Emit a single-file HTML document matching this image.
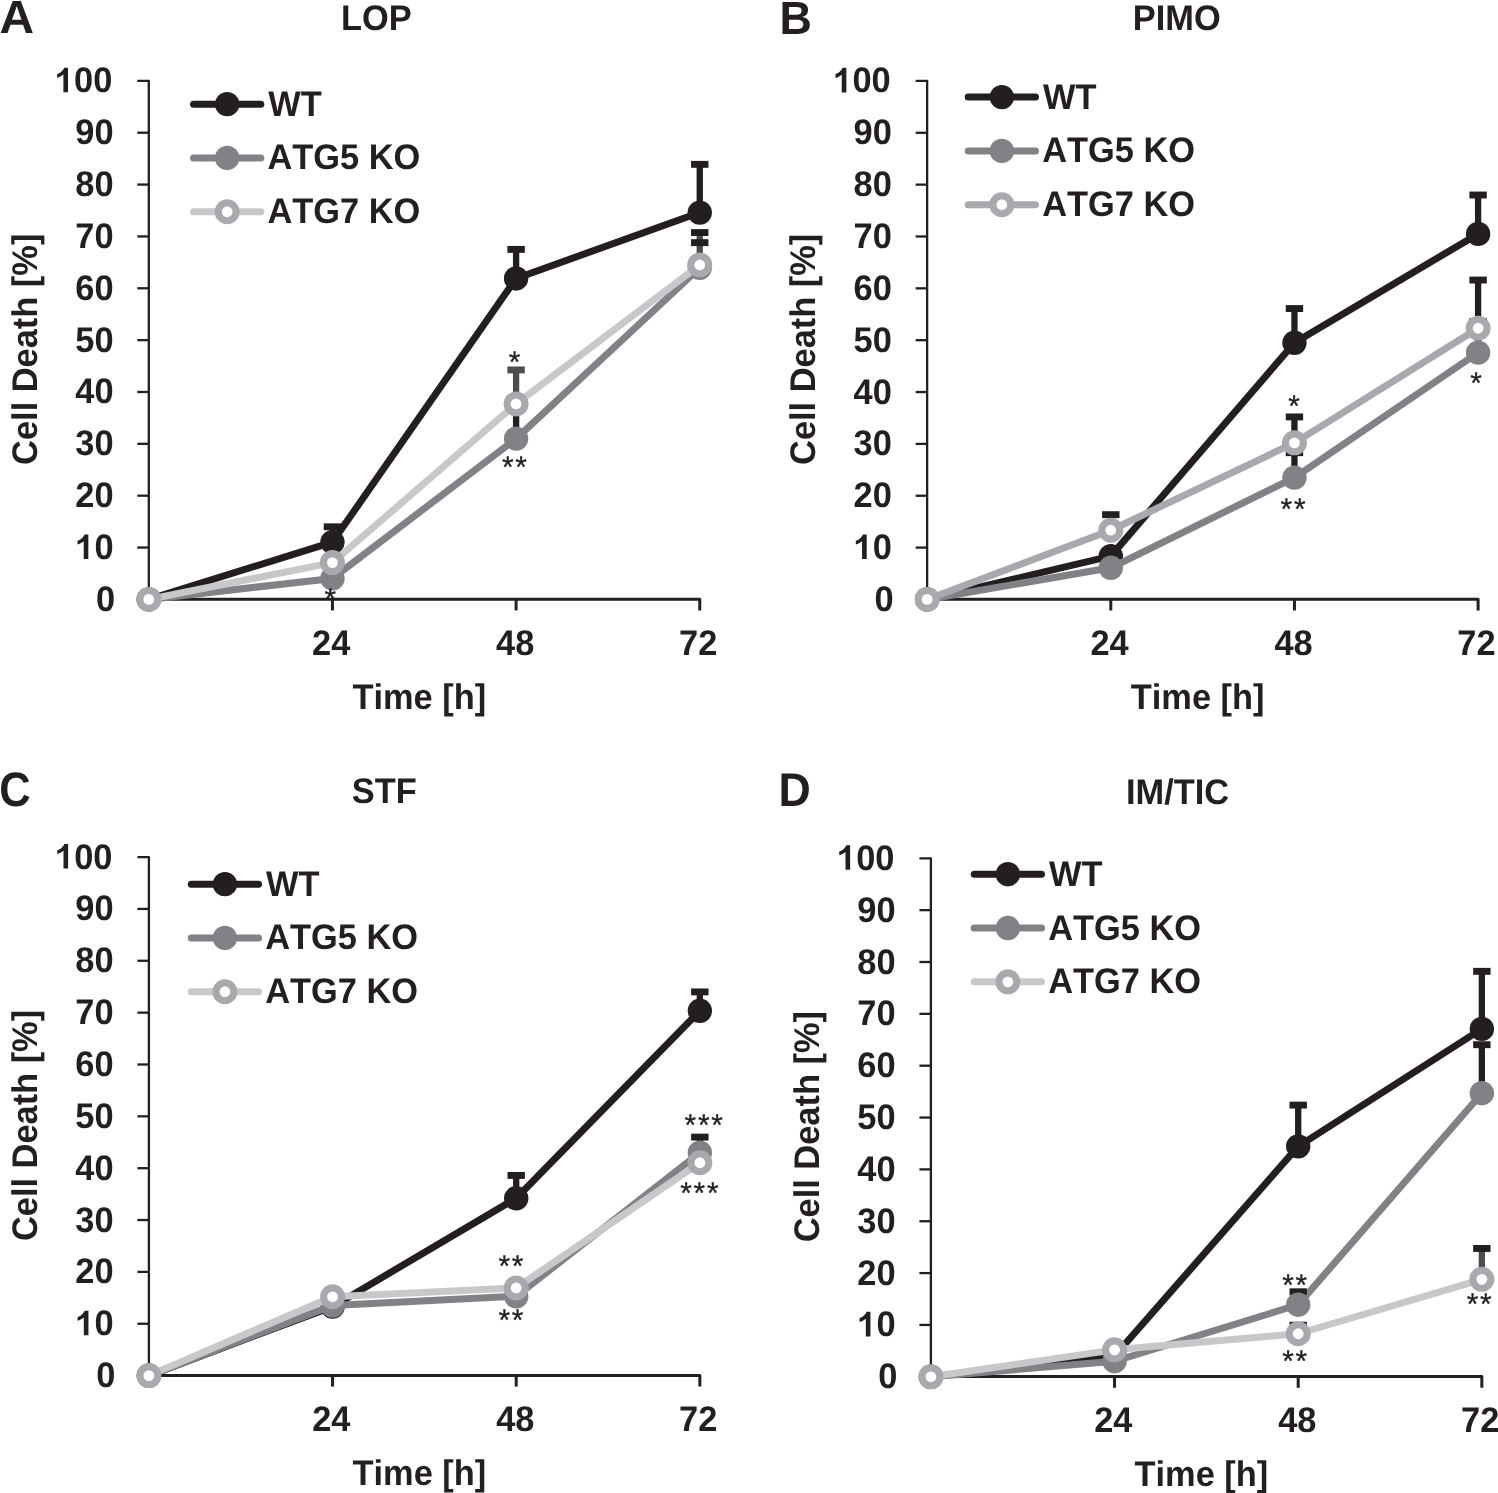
<!DOCTYPE html>
<html><head><meta charset="utf-8"><title>Cell death time courses (LOP, PIMO, STF, IM/TIC)</title>
<style>
html,body{margin:0;padding:0;background:#fff;}
body{width:1498px;height:1493px;overflow:hidden;}
svg{display:block;will-change:transform;font-family:"Liberation Sans",sans-serif;}
text{text-rendering:geometricPrecision;font-kerning:none;}
</style></head><body>
<svg width="1498" height="1493" viewBox="0 0 1498 1493">
<rect width="1498" height="1493" fill="#fff"/>
<path d="M137.30,80.87 H148.80 V599.20" fill="none" stroke="#231f20" stroke-width="2.3" stroke-linejoin="round" stroke-linecap="butt"/>
<path d="M148.80,599.20 H699.75 V610.40" fill="none" stroke="#231f20" stroke-width="3.0" stroke-linejoin="round" stroke-linecap="butt"/>
<line x1="137.30" y1="599.40" x2="148.80" y2="599.40" stroke="#231f20" stroke-width="2.3" stroke-linecap="butt"/>
<line x1="137.30" y1="547.55" x2="148.80" y2="547.55" stroke="#231f20" stroke-width="2.3" stroke-linecap="butt"/>
<line x1="137.30" y1="495.69" x2="148.80" y2="495.69" stroke="#231f20" stroke-width="2.3" stroke-linecap="butt"/>
<line x1="137.30" y1="443.84" x2="148.80" y2="443.84" stroke="#231f20" stroke-width="2.3" stroke-linecap="butt"/>
<line x1="137.30" y1="391.99" x2="148.80" y2="391.99" stroke="#231f20" stroke-width="2.3" stroke-linecap="butt"/>
<line x1="137.30" y1="340.13" x2="148.80" y2="340.13" stroke="#231f20" stroke-width="2.3" stroke-linecap="butt"/>
<line x1="137.30" y1="288.28" x2="148.80" y2="288.28" stroke="#231f20" stroke-width="2.3" stroke-linecap="butt"/>
<line x1="137.30" y1="236.43" x2="148.80" y2="236.43" stroke="#231f20" stroke-width="2.3" stroke-linecap="butt"/>
<line x1="137.30" y1="184.58" x2="148.80" y2="184.58" stroke="#231f20" stroke-width="2.3" stroke-linecap="butt"/>
<line x1="137.30" y1="132.72" x2="148.80" y2="132.72" stroke="#231f20" stroke-width="2.3" stroke-linecap="butt"/>
<line x1="332.45" y1="599.20" x2="332.45" y2="610.40" stroke="#231f20" stroke-width="3.0" stroke-linecap="butt"/>
<line x1="516.10" y1="599.20" x2="516.10" y2="610.40" stroke="#231f20" stroke-width="3.0" stroke-linecap="butt"/>
<text transform="translate(96.12,610.90) scale(1.0000,1.0350)" font-size="34.4" font-weight="bold" fill="#231f20">0</text>
<path transform="translate(75.25,559.04) scale(1,1.035)" d="M8.47,0 H13.09 V-23.75 H9.28 C8.45,-21.87 6.9,-20.04 5.1,-18.92 C4.2,-18.41 3.25,-18.05 2.23,-17.75 V-13.98 C4.4,-14.6 6.6,-15.66 8.47,-17.19 Z" fill="#231f20"/>
<text transform="translate(94.38,559.04) scale(1.0000,1.0350)" font-size="34.4" font-weight="bold" fill="#231f20">0</text>
<text transform="translate(75.25,507.19) scale(1.0000,1.0350)" font-size="34.4" font-weight="bold" fill="#231f20">2</text>
<text transform="translate(94.38,507.19) scale(1.0000,1.0350)" font-size="34.4" font-weight="bold" fill="#231f20">0</text>
<text transform="translate(75.25,455.34) scale(1.0000,1.0350)" font-size="34.4" font-weight="bold" fill="#231f20">3</text>
<text transform="translate(94.38,455.34) scale(1.0000,1.0350)" font-size="34.4" font-weight="bold" fill="#231f20">0</text>
<text transform="translate(75.25,403.49) scale(1.0000,1.0350)" font-size="34.4" font-weight="bold" fill="#231f20">4</text>
<text transform="translate(94.38,403.49) scale(1.0000,1.0350)" font-size="34.4" font-weight="bold" fill="#231f20">0</text>
<text transform="translate(75.25,351.63) scale(1.0000,1.0350)" font-size="34.4" font-weight="bold" fill="#231f20">5</text>
<text transform="translate(94.38,351.63) scale(1.0000,1.0350)" font-size="34.4" font-weight="bold" fill="#231f20">0</text>
<text transform="translate(75.25,299.78) scale(1.0000,1.0350)" font-size="34.4" font-weight="bold" fill="#231f20">6</text>
<text transform="translate(94.38,299.78) scale(1.0000,1.0350)" font-size="34.4" font-weight="bold" fill="#231f20">0</text>
<text transform="translate(75.25,247.93) scale(1.0000,1.0350)" font-size="34.4" font-weight="bold" fill="#231f20">7</text>
<text transform="translate(94.38,247.93) scale(1.0000,1.0350)" font-size="34.4" font-weight="bold" fill="#231f20">0</text>
<text transform="translate(75.25,196.07) scale(1.0000,1.0350)" font-size="34.4" font-weight="bold" fill="#231f20">8</text>
<text transform="translate(94.38,196.07) scale(1.0000,1.0350)" font-size="34.4" font-weight="bold" fill="#231f20">0</text>
<text transform="translate(75.25,144.22) scale(1.0000,1.0350)" font-size="34.4" font-weight="bold" fill="#231f20">9</text>
<text transform="translate(94.38,144.22) scale(1.0000,1.0350)" font-size="34.4" font-weight="bold" fill="#231f20">0</text>
<path transform="translate(54.93,92.37) scale(1,1.035)" d="M8.47,0 H13.09 V-23.75 H9.28 C8.45,-21.87 6.9,-20.04 5.1,-18.92 C4.2,-18.41 3.25,-18.05 2.23,-17.75 V-13.98 C4.4,-14.6 6.6,-15.66 8.47,-17.19 Z" fill="#231f20"/>
<text transform="translate(74.05,92.37) scale(1.0000,1.0350)" font-size="34.4" font-weight="bold" fill="#231f20">0</text>
<text transform="translate(93.18,92.37) scale(1.0000,1.0350)" font-size="34.4" font-weight="bold" fill="#231f20">0</text>
<text transform="translate(312.11,655.05) scale(1.0000,1.0350)" font-size="34.4" font-weight="bold" fill="#231f20">24</text>
<text transform="translate(496.09,655.05) scale(1.0000,1.0350)" font-size="34.4" font-weight="bold" fill="#231f20">48</text>
<text transform="translate(679.02,655.05) scale(1.0000,1.0350)" font-size="34.4" font-weight="bold" fill="#231f20">72</text>
<text transform="translate(-0.44,33.04) scale(1.0250,1.0000)" font-size="46.7" font-weight="bold" fill="#231f20">A</text>
<text transform="translate(341.00,30.20) scale(1.0000,1.0350)" font-size="34.4" font-weight="bold" fill="#231f20">LOP</text>
<text transform="translate(352.41,708.80) scale(1.0000,1.0350)" font-size="34.4" font-weight="bold" fill="#231f20">Time [h]</text>
<text transform="translate(36.60,464.88) rotate(-90) scale(1.0000,1.0350)" font-size="34.4" font-weight="bold" fill="#231f20">Cell Death [%]</text>
<line x1="193.51" y1="104.17" x2="260.81" y2="104.17" stroke="#231f20" stroke-width="7.0" stroke-linecap="round"/>
<circle cx="227.16" cy="104.17" r="12.2" fill="#231f20"/>
<text transform="translate(268.28,115.67) scale(1.0000,1.0350)" font-size="34.4" font-weight="bold" fill="#231f20">WT</text>
<line x1="193.51" y1="157.97" x2="260.81" y2="157.97" stroke="#808285" stroke-width="7.0" stroke-linecap="round"/>
<circle cx="227.16" cy="157.97" r="12.2" fill="#808285"/>
<text transform="translate(267.45,169.47) scale(1.0000,1.0350)" font-size="34.4" font-weight="bold" fill="#231f20">ATG5 KO</text>
<line x1="193.51" y1="211.77" x2="260.81" y2="211.77" stroke="#c7c8ca" stroke-width="7.0" stroke-linecap="round"/>
<circle cx="227.16" cy="211.77" r="8.95" fill="#fff" stroke="#a7a9ac" stroke-width="7.1"/>
<text transform="translate(267.45,223.27) scale(1.0000,1.0350)" font-size="34.4" font-weight="bold" fill="#231f20">ATG7 KO</text>
<polyline points="148.80,599.40 332.45,542.10 516.10,278.43 699.75,212.58" fill="none" stroke="#231f20" stroke-width="7.0" stroke-linejoin="round" stroke-linecap="round"/>
<rect x="329.30" y="526.81" width="6.30" height="15.30" fill="#231f20"/>
<rect x="323.75" y="523.36" width="17.40" height="6.90" fill="#231f20"/>
<rect x="512.95" y="249.39" width="6.30" height="29.04" fill="#231f20"/>
<rect x="507.40" y="245.94" width="17.40" height="6.90" fill="#231f20"/>
<rect x="696.60" y="164.35" width="6.30" height="48.22" fill="#231f20"/>
<rect x="691.05" y="160.90" width="17.40" height="6.90" fill="#231f20"/>
<circle cx="148.80" cy="599.40" r="12.2" fill="#231f20"/>
<circle cx="332.45" cy="542.10" r="12.2" fill="#231f20"/>
<circle cx="516.10" cy="278.43" r="12.2" fill="#231f20"/>
<circle cx="699.75" cy="212.58" r="12.2" fill="#231f20"/>
<polyline points="148.80,599.40 332.45,578.40 516.10,438.66 699.75,267.80" fill="none" stroke="#808285" stroke-width="7.0" stroke-linejoin="round" stroke-linecap="round"/>
<rect x="512.95" y="404.95" width="6.30" height="33.70" fill="#231f20"/>
<rect x="507.40" y="401.50" width="17.40" height="6.90" fill="#231f20"/>
<circle cx="148.80" cy="599.40" r="12.2" fill="#808285"/>
<circle cx="332.45" cy="578.40" r="12.2" fill="#808285"/>
<circle cx="516.10" cy="438.66" r="12.2" fill="#808285"/>
<circle cx="699.75" cy="267.80" r="12.2" fill="#808285"/>
<polyline points="148.80,599.40 332.45,562.58 516.10,403.91 699.75,264.95" fill="none" stroke="#c7c8ca" stroke-width="7.0" stroke-linejoin="round" stroke-linecap="round"/>
<rect x="512.95" y="369.95" width="6.30" height="33.96" fill="#4d4d4f"/>
<rect x="507.40" y="366.50" width="17.40" height="6.90" fill="#4d4d4f"/>
<rect x="696.60" y="232.54" width="6.30" height="32.41" fill="#4d4d4f"/>
<rect x="691.05" y="229.09" width="17.40" height="6.90" fill="#231f20"/>
<rect x="691.05" y="239.20" width="17.40" height="6.90" fill="#231f20"/>
<circle cx="148.80" cy="599.40" r="8.95" fill="#fff" stroke="#a7a9ac" stroke-width="7.1"/>
<circle cx="332.45" cy="562.58" r="8.95" fill="#fff" stroke="#a7a9ac" stroke-width="7.1"/>
<circle cx="516.10" cy="403.91" r="8.95" fill="#fff" stroke="#a7a9ac" stroke-width="7.1"/>
<circle cx="699.75" cy="264.95" r="8.95" fill="#fff" stroke="#a7a9ac" stroke-width="7.1"/>
<text x="324.57" y="608.65" font-size="29.8" font-weight="normal" letter-spacing="1.8" fill="#231f20" stroke="#231f20" stroke-width="0.3">*</text>
<text x="508.87" y="371.95" font-size="29.8" font-weight="normal" letter-spacing="1.8" fill="#231f20" stroke="#231f20" stroke-width="0.3">*</text>
<text x="501.97" y="477.35" font-size="29.8" font-weight="normal" letter-spacing="1.8" fill="#231f20" stroke="#231f20" stroke-width="0.3">**</text>
<path d="M915.65,80.94 H927.15 V599.24" fill="none" stroke="#231f20" stroke-width="2.3" stroke-linejoin="round" stroke-linecap="butt"/>
<path d="M927.15,599.24 H1478.10 V610.44" fill="none" stroke="#231f20" stroke-width="3.0" stroke-linejoin="round" stroke-linecap="butt"/>
<line x1="915.65" y1="599.44" x2="927.15" y2="599.44" stroke="#231f20" stroke-width="2.3" stroke-linecap="butt"/>
<line x1="915.65" y1="547.59" x2="927.15" y2="547.59" stroke="#231f20" stroke-width="2.3" stroke-linecap="butt"/>
<line x1="915.65" y1="495.74" x2="927.15" y2="495.74" stroke="#231f20" stroke-width="2.3" stroke-linecap="butt"/>
<line x1="915.65" y1="443.89" x2="927.15" y2="443.89" stroke="#231f20" stroke-width="2.3" stroke-linecap="butt"/>
<line x1="915.65" y1="392.04" x2="927.15" y2="392.04" stroke="#231f20" stroke-width="2.3" stroke-linecap="butt"/>
<line x1="915.65" y1="340.19" x2="927.15" y2="340.19" stroke="#231f20" stroke-width="2.3" stroke-linecap="butt"/>
<line x1="915.65" y1="288.34" x2="927.15" y2="288.34" stroke="#231f20" stroke-width="2.3" stroke-linecap="butt"/>
<line x1="915.65" y1="236.49" x2="927.15" y2="236.49" stroke="#231f20" stroke-width="2.3" stroke-linecap="butt"/>
<line x1="915.65" y1="184.64" x2="927.15" y2="184.64" stroke="#231f20" stroke-width="2.3" stroke-linecap="butt"/>
<line x1="915.65" y1="132.79" x2="927.15" y2="132.79" stroke="#231f20" stroke-width="2.3" stroke-linecap="butt"/>
<line x1="1110.80" y1="599.24" x2="1110.80" y2="610.44" stroke="#231f20" stroke-width="3.0" stroke-linecap="butt"/>
<line x1="1294.45" y1="599.24" x2="1294.45" y2="610.44" stroke="#231f20" stroke-width="3.0" stroke-linecap="butt"/>
<text transform="translate(874.47,610.94) scale(1.0000,1.0350)" font-size="34.4" font-weight="bold" fill="#231f20">0</text>
<path transform="translate(853.60,559.09) scale(1,1.035)" d="M8.47,0 H13.09 V-23.75 H9.28 C8.45,-21.87 6.9,-20.04 5.1,-18.92 C4.2,-18.41 3.25,-18.05 2.23,-17.75 V-13.98 C4.4,-14.6 6.6,-15.66 8.47,-17.19 Z" fill="#231f20"/>
<text transform="translate(872.73,559.09) scale(1.0000,1.0350)" font-size="34.4" font-weight="bold" fill="#231f20">0</text>
<text transform="translate(853.60,507.24) scale(1.0000,1.0350)" font-size="34.4" font-weight="bold" fill="#231f20">2</text>
<text transform="translate(872.73,507.24) scale(1.0000,1.0350)" font-size="34.4" font-weight="bold" fill="#231f20">0</text>
<text transform="translate(853.60,455.39) scale(1.0000,1.0350)" font-size="34.4" font-weight="bold" fill="#231f20">3</text>
<text transform="translate(872.73,455.39) scale(1.0000,1.0350)" font-size="34.4" font-weight="bold" fill="#231f20">0</text>
<text transform="translate(853.60,403.54) scale(1.0000,1.0350)" font-size="34.4" font-weight="bold" fill="#231f20">4</text>
<text transform="translate(872.73,403.54) scale(1.0000,1.0350)" font-size="34.4" font-weight="bold" fill="#231f20">0</text>
<text transform="translate(853.60,351.69) scale(1.0000,1.0350)" font-size="34.4" font-weight="bold" fill="#231f20">5</text>
<text transform="translate(872.73,351.69) scale(1.0000,1.0350)" font-size="34.4" font-weight="bold" fill="#231f20">0</text>
<text transform="translate(853.60,299.84) scale(1.0000,1.0350)" font-size="34.4" font-weight="bold" fill="#231f20">6</text>
<text transform="translate(872.73,299.84) scale(1.0000,1.0350)" font-size="34.4" font-weight="bold" fill="#231f20">0</text>
<text transform="translate(853.60,247.99) scale(1.0000,1.0350)" font-size="34.4" font-weight="bold" fill="#231f20">7</text>
<text transform="translate(872.73,247.99) scale(1.0000,1.0350)" font-size="34.4" font-weight="bold" fill="#231f20">0</text>
<text transform="translate(853.60,196.14) scale(1.0000,1.0350)" font-size="34.4" font-weight="bold" fill="#231f20">8</text>
<text transform="translate(872.73,196.14) scale(1.0000,1.0350)" font-size="34.4" font-weight="bold" fill="#231f20">0</text>
<text transform="translate(853.60,144.29) scale(1.0000,1.0350)" font-size="34.4" font-weight="bold" fill="#231f20">9</text>
<text transform="translate(872.73,144.29) scale(1.0000,1.0350)" font-size="34.4" font-weight="bold" fill="#231f20">0</text>
<path transform="translate(833.28,92.44) scale(1,1.035)" d="M8.47,0 H13.09 V-23.75 H9.28 C8.45,-21.87 6.9,-20.04 5.1,-18.92 C4.2,-18.41 3.25,-18.05 2.23,-17.75 V-13.98 C4.4,-14.6 6.6,-15.66 8.47,-17.19 Z" fill="#231f20"/>
<text transform="translate(852.40,92.44) scale(1.0000,1.0350)" font-size="34.4" font-weight="bold" fill="#231f20">0</text>
<text transform="translate(871.53,92.44) scale(1.0000,1.0350)" font-size="34.4" font-weight="bold" fill="#231f20">0</text>
<text transform="translate(1090.46,655.09) scale(1.0000,1.0350)" font-size="34.4" font-weight="bold" fill="#231f20">24</text>
<text transform="translate(1274.44,655.09) scale(1.0000,1.0350)" font-size="34.4" font-weight="bold" fill="#231f20">48</text>
<text transform="translate(1457.37,655.09) scale(1.0000,1.0350)" font-size="34.4" font-weight="bold" fill="#231f20">72</text>
<text transform="translate(779.50,34.24) scale(0.9600,1.0000)" font-size="46.7" font-weight="bold" fill="#231f20">B</text>
<text transform="translate(1132.86,30.48) scale(1.0000,1.0350)" font-size="34.4" font-weight="bold" fill="#231f20">PIMO</text>
<text transform="translate(1130.76,708.84) scale(1.0000,1.0350)" font-size="34.4" font-weight="bold" fill="#231f20">Time [h]</text>
<text transform="translate(814.95,464.92) rotate(-90) scale(1.0000,1.0350)" font-size="34.4" font-weight="bold" fill="#231f20">Cell Death [%]</text>
<line x1="968.20" y1="97.10" x2="1035.50" y2="97.10" stroke="#231f20" stroke-width="7.0" stroke-linecap="round"/>
<circle cx="1001.85" cy="97.10" r="12.2" fill="#231f20"/>
<text transform="translate(1042.97,108.60) scale(1.0000,1.0350)" font-size="34.4" font-weight="bold" fill="#231f20">WT</text>
<line x1="968.20" y1="150.90" x2="1035.50" y2="150.90" stroke="#808285" stroke-width="7.0" stroke-linecap="round"/>
<circle cx="1001.85" cy="150.90" r="12.2" fill="#808285"/>
<text transform="translate(1042.14,162.40) scale(1.0000,1.0350)" font-size="34.4" font-weight="bold" fill="#231f20">ATG5 KO</text>
<line x1="968.20" y1="204.70" x2="1035.50" y2="204.70" stroke="#a7a9ac" stroke-width="7.0" stroke-linecap="round"/>
<circle cx="1001.85" cy="204.70" r="8.95" fill="#fff" stroke="#a7a9ac" stroke-width="7.1"/>
<text transform="translate(1042.14,216.20) scale(1.0000,1.0350)" font-size="34.4" font-weight="bold" fill="#231f20">ATG7 KO</text>
<polyline points="927.15,599.44 1110.80,556.15 1294.45,342.78 1478.10,233.90" fill="none" stroke="#231f20" stroke-width="7.0" stroke-linejoin="round" stroke-linecap="round"/>
<rect x="1291.30" y="308.56" width="6.30" height="34.22" fill="#231f20"/>
<rect x="1285.75" y="305.11" width="17.40" height="6.90" fill="#231f20"/>
<rect x="1474.95" y="195.01" width="6.30" height="38.89" fill="#231f20"/>
<rect x="1469.40" y="191.56" width="17.40" height="6.90" fill="#231f20"/>
<circle cx="927.15" cy="599.44" r="12.2" fill="#231f20"/>
<circle cx="1110.80" cy="556.15" r="12.2" fill="#231f20"/>
<circle cx="1294.45" cy="342.78" r="12.2" fill="#231f20"/>
<circle cx="1478.10" cy="233.90" r="12.2" fill="#231f20"/>
<polyline points="927.15,599.44 1110.80,567.81 1294.45,477.59 1478.10,352.63" fill="none" stroke="#808285" stroke-width="7.0" stroke-linejoin="round" stroke-linecap="round"/>
<rect x="1291.30" y="452.70" width="6.30" height="24.89" fill="#231f20"/>
<rect x="1285.75" y="449.25" width="17.40" height="6.90" fill="#231f20"/>
<rect x="1474.95" y="321.52" width="6.30" height="31.11" fill="#231f20"/>
<rect x="1469.40" y="318.07" width="17.40" height="6.90" fill="#231f20"/>
<circle cx="927.15" cy="599.44" r="12.2" fill="#808285"/>
<circle cx="1110.80" cy="567.81" r="12.2" fill="#808285"/>
<circle cx="1294.45" cy="477.59" r="12.2" fill="#808285"/>
<circle cx="1478.10" cy="352.63" r="12.2" fill="#808285"/>
<polyline points="927.15,599.44 1110.80,530.22 1294.45,442.85 1478.10,328.26" fill="none" stroke="#a7a9ac" stroke-width="7.0" stroke-linejoin="round" stroke-linecap="round"/>
<rect x="1107.65" y="514.67" width="6.30" height="15.56" fill="#231f20"/>
<rect x="1102.10" y="511.22" width="17.40" height="6.90" fill="#231f20"/>
<rect x="1291.30" y="416.93" width="6.30" height="25.93" fill="#231f20"/>
<rect x="1285.75" y="413.48" width="17.40" height="6.90" fill="#231f20"/>
<rect x="1474.95" y="280.04" width="6.30" height="48.22" fill="#231f20"/>
<rect x="1469.40" y="276.59" width="17.40" height="6.90" fill="#231f20"/>
<circle cx="927.15" cy="599.44" r="8.95" fill="#fff" stroke="#a7a9ac" stroke-width="7.1"/>
<circle cx="1110.80" cy="530.22" r="8.95" fill="#fff" stroke="#a7a9ac" stroke-width="7.1"/>
<circle cx="1294.45" cy="442.85" r="8.95" fill="#fff" stroke="#a7a9ac" stroke-width="7.1"/>
<circle cx="1478.10" cy="328.26" r="8.95" fill="#fff" stroke="#a7a9ac" stroke-width="7.1"/>
<text x="1288.17" y="416.15" font-size="29.8" font-weight="normal" letter-spacing="1.8" fill="#231f20" stroke="#231f20" stroke-width="0.3">*</text>
<text x="1280.57" y="518.55" font-size="29.8" font-weight="normal" letter-spacing="1.8" fill="#231f20" stroke="#231f20" stroke-width="0.3">**</text>
<text x="1470.37" y="393.05" font-size="29.8" font-weight="normal" letter-spacing="1.8" fill="#231f20" stroke="#231f20" stroke-width="0.3">*</text>
<path d="M137.40,857.08 H148.90 V1375.40" fill="none" stroke="#231f20" stroke-width="2.3" stroke-linejoin="round" stroke-linecap="butt"/>
<path d="M148.90,1375.40 H699.85 V1386.60" fill="none" stroke="#231f20" stroke-width="3.0" stroke-linejoin="round" stroke-linecap="butt"/>
<line x1="137.40" y1="1375.60" x2="148.90" y2="1375.60" stroke="#231f20" stroke-width="2.3" stroke-linecap="butt"/>
<line x1="137.40" y1="1323.75" x2="148.90" y2="1323.75" stroke="#231f20" stroke-width="2.3" stroke-linecap="butt"/>
<line x1="137.40" y1="1271.90" x2="148.90" y2="1271.90" stroke="#231f20" stroke-width="2.3" stroke-linecap="butt"/>
<line x1="137.40" y1="1220.04" x2="148.90" y2="1220.04" stroke="#231f20" stroke-width="2.3" stroke-linecap="butt"/>
<line x1="137.40" y1="1168.19" x2="148.90" y2="1168.19" stroke="#231f20" stroke-width="2.3" stroke-linecap="butt"/>
<line x1="137.40" y1="1116.34" x2="148.90" y2="1116.34" stroke="#231f20" stroke-width="2.3" stroke-linecap="butt"/>
<line x1="137.40" y1="1064.49" x2="148.90" y2="1064.49" stroke="#231f20" stroke-width="2.3" stroke-linecap="butt"/>
<line x1="137.40" y1="1012.64" x2="148.90" y2="1012.64" stroke="#231f20" stroke-width="2.3" stroke-linecap="butt"/>
<line x1="137.40" y1="960.78" x2="148.90" y2="960.78" stroke="#231f20" stroke-width="2.3" stroke-linecap="butt"/>
<line x1="137.40" y1="908.93" x2="148.90" y2="908.93" stroke="#231f20" stroke-width="2.3" stroke-linecap="butt"/>
<line x1="332.55" y1="1375.40" x2="332.55" y2="1386.60" stroke="#231f20" stroke-width="3.0" stroke-linecap="butt"/>
<line x1="516.20" y1="1375.40" x2="516.20" y2="1386.60" stroke="#231f20" stroke-width="3.0" stroke-linecap="butt"/>
<text transform="translate(96.22,1387.10) scale(1.0000,1.0350)" font-size="34.4" font-weight="bold" fill="#231f20">0</text>
<path transform="translate(75.35,1335.25) scale(1,1.035)" d="M8.47,0 H13.09 V-23.75 H9.28 C8.45,-21.87 6.9,-20.04 5.1,-18.92 C4.2,-18.41 3.25,-18.05 2.23,-17.75 V-13.98 C4.4,-14.6 6.6,-15.66 8.47,-17.19 Z" fill="#231f20"/>
<text transform="translate(94.48,1335.25) scale(1.0000,1.0350)" font-size="34.4" font-weight="bold" fill="#231f20">0</text>
<text transform="translate(75.35,1283.39) scale(1.0000,1.0350)" font-size="34.4" font-weight="bold" fill="#231f20">2</text>
<text transform="translate(94.48,1283.39) scale(1.0000,1.0350)" font-size="34.4" font-weight="bold" fill="#231f20">0</text>
<text transform="translate(75.35,1231.54) scale(1.0000,1.0350)" font-size="34.4" font-weight="bold" fill="#231f20">3</text>
<text transform="translate(94.48,1231.54) scale(1.0000,1.0350)" font-size="34.4" font-weight="bold" fill="#231f20">0</text>
<text transform="translate(75.35,1179.69) scale(1.0000,1.0350)" font-size="34.4" font-weight="bold" fill="#231f20">4</text>
<text transform="translate(94.48,1179.69) scale(1.0000,1.0350)" font-size="34.4" font-weight="bold" fill="#231f20">0</text>
<text transform="translate(75.35,1127.84) scale(1.0000,1.0350)" font-size="34.4" font-weight="bold" fill="#231f20">5</text>
<text transform="translate(94.48,1127.84) scale(1.0000,1.0350)" font-size="34.4" font-weight="bold" fill="#231f20">0</text>
<text transform="translate(75.35,1075.99) scale(1.0000,1.0350)" font-size="34.4" font-weight="bold" fill="#231f20">6</text>
<text transform="translate(94.48,1075.99) scale(1.0000,1.0350)" font-size="34.4" font-weight="bold" fill="#231f20">0</text>
<text transform="translate(75.35,1024.13) scale(1.0000,1.0350)" font-size="34.4" font-weight="bold" fill="#231f20">7</text>
<text transform="translate(94.48,1024.13) scale(1.0000,1.0350)" font-size="34.4" font-weight="bold" fill="#231f20">0</text>
<text transform="translate(75.35,972.28) scale(1.0000,1.0350)" font-size="34.4" font-weight="bold" fill="#231f20">8</text>
<text transform="translate(94.48,972.28) scale(1.0000,1.0350)" font-size="34.4" font-weight="bold" fill="#231f20">0</text>
<text transform="translate(75.35,920.43) scale(1.0000,1.0350)" font-size="34.4" font-weight="bold" fill="#231f20">9</text>
<text transform="translate(94.48,920.43) scale(1.0000,1.0350)" font-size="34.4" font-weight="bold" fill="#231f20">0</text>
<path transform="translate(55.03,868.58) scale(1,1.035)" d="M8.47,0 H13.09 V-23.75 H9.28 C8.45,-21.87 6.9,-20.04 5.1,-18.92 C4.2,-18.41 3.25,-18.05 2.23,-17.75 V-13.98 C4.4,-14.6 6.6,-15.66 8.47,-17.19 Z" fill="#231f20"/>
<text transform="translate(74.15,868.58) scale(1.0000,1.0350)" font-size="34.4" font-weight="bold" fill="#231f20">0</text>
<text transform="translate(93.28,868.58) scale(1.0000,1.0350)" font-size="34.4" font-weight="bold" fill="#231f20">0</text>
<text transform="translate(312.21,1431.25) scale(1.0000,1.0350)" font-size="34.4" font-weight="bold" fill="#231f20">24</text>
<text transform="translate(496.19,1431.25) scale(1.0000,1.0350)" font-size="34.4" font-weight="bold" fill="#231f20">48</text>
<text transform="translate(679.12,1431.25) scale(1.0000,1.0350)" font-size="34.4" font-weight="bold" fill="#231f20">72</text>
<text transform="translate(-0.71,806.28) scale(0.9330,1.0390)" font-size="46.7" font-weight="bold" fill="#231f20">C</text>
<text transform="translate(351.75,802.97) scale(1.0000,1.0350)" font-size="34.4" font-weight="bold" fill="#231f20">STF</text>
<text transform="translate(352.51,1485.00) scale(1.0000,1.0350)" font-size="34.4" font-weight="bold" fill="#231f20">Time [h]</text>
<text transform="translate(36.70,1241.08) rotate(-90) scale(1.0000,1.0350)" font-size="34.4" font-weight="bold" fill="#231f20">Cell Death [%]</text>
<line x1="191.27" y1="884.17" x2="258.57" y2="884.17" stroke="#231f20" stroke-width="7.0" stroke-linecap="round"/>
<circle cx="224.92" cy="884.17" r="12.2" fill="#231f20"/>
<text transform="translate(266.04,895.67) scale(1.0000,1.0350)" font-size="34.4" font-weight="bold" fill="#231f20">WT</text>
<line x1="191.27" y1="937.97" x2="258.57" y2="937.97" stroke="#808285" stroke-width="7.0" stroke-linecap="round"/>
<circle cx="224.92" cy="937.97" r="12.2" fill="#808285"/>
<text transform="translate(265.21,949.47) scale(1.0000,1.0350)" font-size="34.4" font-weight="bold" fill="#231f20">ATG5 KO</text>
<line x1="191.27" y1="991.77" x2="258.57" y2="991.77" stroke="#c7c8ca" stroke-width="7.0" stroke-linecap="round"/>
<circle cx="224.92" cy="991.77" r="8.95" fill="#fff" stroke="#a7a9ac" stroke-width="7.1"/>
<text transform="translate(265.21,1003.27) scale(1.0000,1.0350)" font-size="34.4" font-weight="bold" fill="#231f20">ATG7 KO</text>
<polyline points="148.90,1375.60 332.55,1306.64 516.20,1198.27 699.85,1010.82" fill="none" stroke="#231f20" stroke-width="7.0" stroke-linejoin="round" stroke-linecap="round"/>
<rect x="329.40" y="1297.82" width="6.30" height="8.81" fill="#231f20"/>
<rect x="323.85" y="1294.37" width="17.40" height="6.90" fill="#231f20"/>
<rect x="513.05" y="1175.45" width="6.30" height="22.81" fill="#231f20"/>
<rect x="507.50" y="1172.00" width="17.40" height="6.90" fill="#231f20"/>
<rect x="696.70" y="991.90" width="6.30" height="18.93" fill="#231f20"/>
<rect x="691.15" y="988.45" width="17.40" height="6.90" fill="#231f20"/>
<circle cx="148.90" cy="1375.60" r="12.2" fill="#231f20"/>
<circle cx="332.55" cy="1306.64" r="12.2" fill="#231f20"/>
<circle cx="516.20" cy="1198.27" r="12.2" fill="#231f20"/>
<circle cx="699.85" cy="1010.82" r="12.2" fill="#231f20"/>
<polyline points="148.90,1375.60 332.55,1305.60 516.20,1296.27 699.85,1152.64" fill="none" stroke="#808285" stroke-width="7.0" stroke-linejoin="round" stroke-linecap="round"/>
<rect x="696.70" y="1137.08" width="6.30" height="15.56" fill="#231f20"/>
<rect x="691.15" y="1133.63" width="17.40" height="6.90" fill="#231f20"/>
<circle cx="148.90" cy="1375.60" r="12.2" fill="#808285"/>
<circle cx="332.55" cy="1305.60" r="12.2" fill="#808285"/>
<circle cx="516.20" cy="1296.27" r="12.2" fill="#808285"/>
<circle cx="699.85" cy="1152.64" r="12.2" fill="#808285"/>
<polyline points="148.90,1375.60 332.55,1296.78 516.20,1287.97 699.85,1162.75" fill="none" stroke="#c7c8ca" stroke-width="7.0" stroke-linejoin="round" stroke-linecap="round"/>
<circle cx="148.90" cy="1375.60" r="8.95" fill="#fff" stroke="#a7a9ac" stroke-width="7.1"/>
<circle cx="332.55" cy="1296.78" r="8.95" fill="#fff" stroke="#a7a9ac" stroke-width="7.1"/>
<circle cx="516.20" cy="1287.97" r="8.95" fill="#fff" stroke="#a7a9ac" stroke-width="7.1"/>
<circle cx="699.85" cy="1162.75" r="8.95" fill="#fff" stroke="#a7a9ac" stroke-width="7.1"/>
<text x="498.47" y="1275.65" font-size="29.8" font-weight="normal" letter-spacing="1.8" fill="#231f20" stroke="#231f20" stroke-width="0.3">**</text>
<text x="498.47" y="1330.45" font-size="29.8" font-weight="normal" letter-spacing="1.8" fill="#231f20" stroke="#231f20" stroke-width="0.3">**</text>
<text x="684.57" y="1134.75" font-size="29.8" font-weight="normal" letter-spacing="1.8" fill="#231f20" stroke="#231f20" stroke-width="0.3">***</text>
<text x="680.17" y="1203.25" font-size="29.8" font-weight="normal" letter-spacing="1.8" fill="#231f20" stroke="#231f20" stroke-width="0.3">***</text>
<path d="M919.40,858.30 H930.90 V1376.60" fill="none" stroke="#231f20" stroke-width="2.3" stroke-linejoin="round" stroke-linecap="butt"/>
<path d="M930.90,1376.60 H1481.85 V1387.80" fill="none" stroke="#231f20" stroke-width="3.0" stroke-linejoin="round" stroke-linecap="butt"/>
<line x1="919.40" y1="1376.80" x2="930.90" y2="1376.80" stroke="#231f20" stroke-width="2.3" stroke-linecap="butt"/>
<line x1="919.40" y1="1324.95" x2="930.90" y2="1324.95" stroke="#231f20" stroke-width="2.3" stroke-linecap="butt"/>
<line x1="919.40" y1="1273.10" x2="930.90" y2="1273.10" stroke="#231f20" stroke-width="2.3" stroke-linecap="butt"/>
<line x1="919.40" y1="1221.25" x2="930.90" y2="1221.25" stroke="#231f20" stroke-width="2.3" stroke-linecap="butt"/>
<line x1="919.40" y1="1169.40" x2="930.90" y2="1169.40" stroke="#231f20" stroke-width="2.3" stroke-linecap="butt"/>
<line x1="919.40" y1="1117.55" x2="930.90" y2="1117.55" stroke="#231f20" stroke-width="2.3" stroke-linecap="butt"/>
<line x1="919.40" y1="1065.70" x2="930.90" y2="1065.70" stroke="#231f20" stroke-width="2.3" stroke-linecap="butt"/>
<line x1="919.40" y1="1013.85" x2="930.90" y2="1013.85" stroke="#231f20" stroke-width="2.3" stroke-linecap="butt"/>
<line x1="919.40" y1="962.00" x2="930.90" y2="962.00" stroke="#231f20" stroke-width="2.3" stroke-linecap="butt"/>
<line x1="919.40" y1="910.15" x2="930.90" y2="910.15" stroke="#231f20" stroke-width="2.3" stroke-linecap="butt"/>
<line x1="1114.55" y1="1376.60" x2="1114.55" y2="1387.80" stroke="#231f20" stroke-width="3.0" stroke-linecap="butt"/>
<line x1="1298.20" y1="1376.60" x2="1298.20" y2="1387.80" stroke="#231f20" stroke-width="3.0" stroke-linecap="butt"/>
<text transform="translate(878.22,1388.30) scale(1.0000,1.0350)" font-size="34.4" font-weight="bold" fill="#231f20">0</text>
<path transform="translate(857.35,1336.45) scale(1,1.035)" d="M8.47,0 H13.09 V-23.75 H9.28 C8.45,-21.87 6.9,-20.04 5.1,-18.92 C4.2,-18.41 3.25,-18.05 2.23,-17.75 V-13.98 C4.4,-14.6 6.6,-15.66 8.47,-17.19 Z" fill="#231f20"/>
<text transform="translate(876.48,1336.45) scale(1.0000,1.0350)" font-size="34.4" font-weight="bold" fill="#231f20">0</text>
<text transform="translate(857.35,1284.60) scale(1.0000,1.0350)" font-size="34.4" font-weight="bold" fill="#231f20">2</text>
<text transform="translate(876.48,1284.60) scale(1.0000,1.0350)" font-size="34.4" font-weight="bold" fill="#231f20">0</text>
<text transform="translate(857.35,1232.75) scale(1.0000,1.0350)" font-size="34.4" font-weight="bold" fill="#231f20">3</text>
<text transform="translate(876.48,1232.75) scale(1.0000,1.0350)" font-size="34.4" font-weight="bold" fill="#231f20">0</text>
<text transform="translate(857.35,1180.90) scale(1.0000,1.0350)" font-size="34.4" font-weight="bold" fill="#231f20">4</text>
<text transform="translate(876.48,1180.90) scale(1.0000,1.0350)" font-size="34.4" font-weight="bold" fill="#231f20">0</text>
<text transform="translate(857.35,1129.05) scale(1.0000,1.0350)" font-size="34.4" font-weight="bold" fill="#231f20">5</text>
<text transform="translate(876.48,1129.05) scale(1.0000,1.0350)" font-size="34.4" font-weight="bold" fill="#231f20">0</text>
<text transform="translate(857.35,1077.20) scale(1.0000,1.0350)" font-size="34.4" font-weight="bold" fill="#231f20">6</text>
<text transform="translate(876.48,1077.20) scale(1.0000,1.0350)" font-size="34.4" font-weight="bold" fill="#231f20">0</text>
<text transform="translate(857.35,1025.35) scale(1.0000,1.0350)" font-size="34.4" font-weight="bold" fill="#231f20">7</text>
<text transform="translate(876.48,1025.35) scale(1.0000,1.0350)" font-size="34.4" font-weight="bold" fill="#231f20">0</text>
<text transform="translate(857.35,973.50) scale(1.0000,1.0350)" font-size="34.4" font-weight="bold" fill="#231f20">8</text>
<text transform="translate(876.48,973.50) scale(1.0000,1.0350)" font-size="34.4" font-weight="bold" fill="#231f20">0</text>
<text transform="translate(857.35,921.65) scale(1.0000,1.0350)" font-size="34.4" font-weight="bold" fill="#231f20">9</text>
<text transform="translate(876.48,921.65) scale(1.0000,1.0350)" font-size="34.4" font-weight="bold" fill="#231f20">0</text>
<path transform="translate(837.03,869.80) scale(1,1.035)" d="M8.47,0 H13.09 V-23.75 H9.28 C8.45,-21.87 6.9,-20.04 5.1,-18.92 C4.2,-18.41 3.25,-18.05 2.23,-17.75 V-13.98 C4.4,-14.6 6.6,-15.66 8.47,-17.19 Z" fill="#231f20"/>
<text transform="translate(856.15,869.80) scale(1.0000,1.0350)" font-size="34.4" font-weight="bold" fill="#231f20">0</text>
<text transform="translate(875.28,869.80) scale(1.0000,1.0350)" font-size="34.4" font-weight="bold" fill="#231f20">0</text>
<text transform="translate(1094.21,1432.45) scale(1.0000,1.0350)" font-size="34.4" font-weight="bold" fill="#231f20">24</text>
<text transform="translate(1278.19,1432.45) scale(1.0000,1.0350)" font-size="34.4" font-weight="bold" fill="#231f20">48</text>
<text transform="translate(1461.12,1432.45) scale(1.0000,1.0350)" font-size="34.4" font-weight="bold" fill="#231f20">72</text>
<text transform="translate(778.48,806.45) scale(0.9570,1.0150)" font-size="46.7" font-weight="bold" fill="#231f20">D</text>
<text transform="translate(1126.00,804.23) scale(1.0000,1.0350)" font-size="34.4" font-weight="bold" fill="#231f20">IM/TIC</text>
<text transform="translate(1134.51,1486.20) scale(1.0000,1.0350)" font-size="34.4" font-weight="bold" fill="#231f20">Time [h]</text>
<text transform="translate(818.70,1242.28) rotate(-90) scale(1.0000,1.0350)" font-size="34.4" font-weight="bold" fill="#231f20">Cell Death [%]</text>
<line x1="974.20" y1="874.24" x2="1041.50" y2="874.24" stroke="#231f20" stroke-width="7.0" stroke-linecap="round"/>
<circle cx="1007.85" cy="874.24" r="12.2" fill="#231f20"/>
<text transform="translate(1048.97,885.74) scale(1.0000,1.0350)" font-size="34.4" font-weight="bold" fill="#231f20">WT</text>
<line x1="974.20" y1="928.04" x2="1041.50" y2="928.04" stroke="#808285" stroke-width="7.0" stroke-linecap="round"/>
<circle cx="1007.85" cy="928.04" r="12.2" fill="#808285"/>
<text transform="translate(1048.14,939.54) scale(1.0000,1.0350)" font-size="34.4" font-weight="bold" fill="#231f20">ATG5 KO</text>
<line x1="974.20" y1="981.84" x2="1041.50" y2="981.84" stroke="#c7c8ca" stroke-width="7.0" stroke-linecap="round"/>
<circle cx="1007.85" cy="981.84" r="8.95" fill="#fff" stroke="#a7a9ac" stroke-width="7.1"/>
<text transform="translate(1048.14,993.34) scale(1.0000,1.0350)" font-size="34.4" font-weight="bold" fill="#231f20">ATG7 KO</text>
<polyline points="930.90,1376.80 1114.55,1356.06 1298.20,1146.33 1481.85,1028.89" fill="none" stroke="#231f20" stroke-width="7.0" stroke-linejoin="round" stroke-linecap="round"/>
<rect x="1295.05" y="1105.11" width="6.30" height="41.22" fill="#231f20"/>
<rect x="1289.50" y="1101.66" width="17.40" height="6.90" fill="#231f20"/>
<rect x="1478.70" y="971.33" width="6.30" height="57.55" fill="#231f20"/>
<rect x="1473.15" y="967.88" width="17.40" height="6.90" fill="#231f20"/>
<circle cx="930.90" cy="1376.80" r="12.2" fill="#231f20"/>
<circle cx="1114.55" cy="1356.06" r="12.2" fill="#231f20"/>
<circle cx="1298.20" cy="1146.33" r="12.2" fill="#231f20"/>
<circle cx="1481.85" cy="1028.89" r="12.2" fill="#231f20"/>
<polyline points="930.90,1376.80 1114.55,1361.24 1298.20,1304.73 1481.85,1093.18" fill="none" stroke="#808285" stroke-width="7.0" stroke-linejoin="round" stroke-linecap="round"/>
<rect x="1295.05" y="1291.77" width="6.30" height="12.96" fill="#231f20"/>
<rect x="1289.50" y="1288.32" width="17.40" height="6.90" fill="#231f20"/>
<rect x="1478.70" y="1044.70" width="6.30" height="48.48" fill="#231f20"/>
<rect x="1473.15" y="1041.25" width="17.40" height="6.90" fill="#231f20"/>
<circle cx="930.90" cy="1376.80" r="12.2" fill="#808285"/>
<circle cx="1114.55" cy="1361.24" r="12.2" fill="#808285"/>
<circle cx="1298.20" cy="1304.73" r="12.2" fill="#808285"/>
<circle cx="1481.85" cy="1093.18" r="12.2" fill="#808285"/>
<polyline points="930.90,1376.80 1114.55,1349.84 1298.20,1333.76 1481.85,1279.32" fill="none" stroke="#c7c8ca" stroke-width="7.0" stroke-linejoin="round" stroke-linecap="round"/>
<rect x="1295.05" y="1325.21" width="6.30" height="8.56" fill="#231f20"/>
<rect x="1289.50" y="1321.76" width="17.40" height="6.90" fill="#231f20"/>
<rect x="1478.70" y="1248.47" width="6.30" height="30.85" fill="#4d4d4f"/>
<rect x="1473.15" y="1245.02" width="17.40" height="6.90" fill="#231f20"/>
<circle cx="930.90" cy="1376.80" r="8.95" fill="#fff" stroke="#a7a9ac" stroke-width="7.1"/>
<circle cx="1114.55" cy="1349.84" r="8.95" fill="#fff" stroke="#a7a9ac" stroke-width="7.1"/>
<circle cx="1298.20" cy="1333.76" r="8.95" fill="#fff" stroke="#a7a9ac" stroke-width="7.1"/>
<circle cx="1481.85" cy="1279.32" r="8.95" fill="#fff" stroke="#a7a9ac" stroke-width="7.1"/>
<text x="1282.17" y="1295.15" font-size="29.8" font-weight="normal" letter-spacing="1.8" fill="#231f20" stroke="#231f20" stroke-width="0.3">**</text>
<text x="1282.17" y="1371.15" font-size="29.8" font-weight="normal" letter-spacing="1.8" fill="#231f20" stroke="#231f20" stroke-width="0.3">**</text>
<text x="1466.67" y="1313.65" font-size="29.8" font-weight="normal" letter-spacing="1.8" fill="#231f20" stroke="#231f20" stroke-width="0.3">**</text>
</svg>
</body></html>
